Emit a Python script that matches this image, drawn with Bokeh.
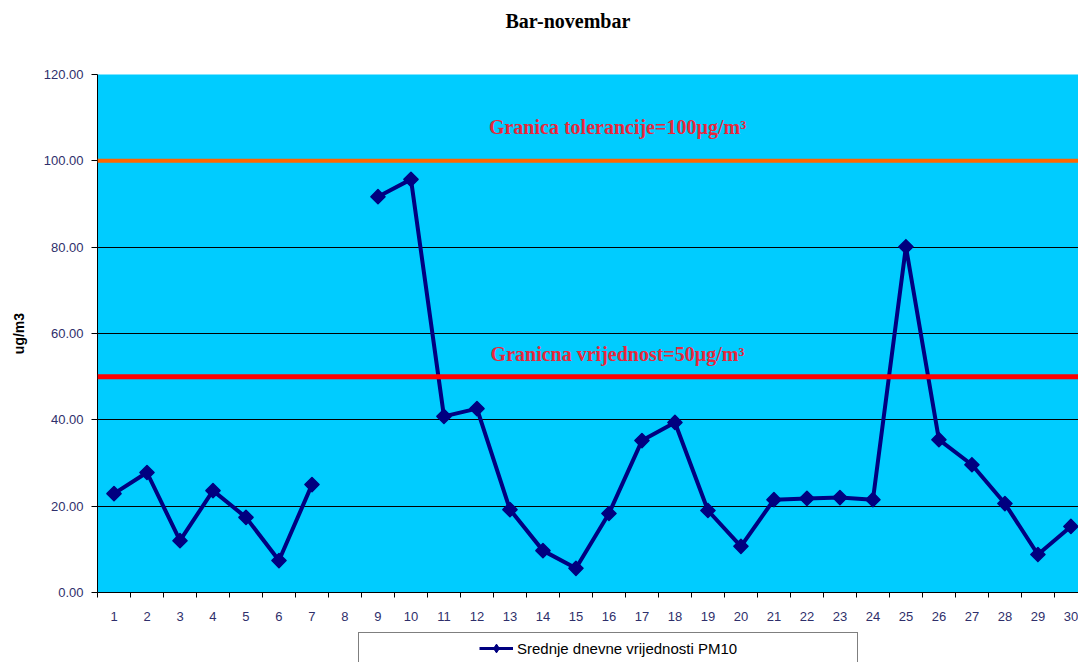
from bokeh.plotting import figure
from bokeh.layouts import column
from bokeh.models import (FixedTicker, PrintfTickFormatter, Span, Label, Legend, LegendItem,
                          ColumnDataSource, Range1d)
from bokeh.embed import file_html
from bokeh.resources import INLINE
import numpy as np

days = list(range(1, 31))
pm10 = [22.9, 27.8, 12.0, 23.6, 17.4, 7.4, 25.0, np.nan, 91.7, 95.7,
        40.8, 42.6, 19.2, 9.7, 5.6, 18.3, 35.2, 39.4, 19.0, 10.7,
        21.5, 21.8, 22.0, 21.5, 80.1, 35.4, 29.6, 20.6, 8.8, 15.3]
y_ticks = [0, 20, 40, 60, 80, 100, 120]
limit_tolerance = 100
limit_value = 50
series_name = "Srednje dnevne vrijednosti PM10"
title_text = "Bar-novembar"
label_tol = "Granica tolerancije=100µg/m³"
label_lim = "Granicna vrijednost=50µg/m³"

src = ColumnDataSource(dict(x=days, y=pm10))


def strip(height):
    f = figure(width=1078, height=height, output_backend="svg", toolbar_location=None,
               x_range=Range1d(0, 1), y_range=Range1d(0, 1),
               min_border_left=0, min_border_right=0, min_border_top=0, min_border_bottom=0)
    f.axis.visible = False
    f.grid.visible = False
    f.outline_line_color = None
    f.background_fill_color = "white"
    f.border_fill_color = "white"
    return f


# ---- title strip ----
top = strip(64)
top.title.text = title_text
top.title.align = "left"
top.title.offset = 408
top.title.vertical_align = "top"
top.title.standoff = 18
top.title.text_font = "Liberation Serif"
top.title.text_font_size = "20px"
top.title.text_font_style = "bold"
top.title.text_color = "black"

# ---- main chart ----
p = figure(width=1078, height=562, output_backend="svg", toolbar_location=None,
           title=None,
           x_range=Range1d(0.5, 30.23), y_range=Range1d(0, 120),
           min_border_left=97, min_border_right=0, min_border_top=10, min_border_bottom=34)

p.background_fill_color = "#00CCFF"
p.border_fill_color = "white"
p.outline_line_color = None

p.xaxis.ticker = FixedTicker(ticks=days, minor_ticks=[d + 0.5 for d in range(0, 31)])
p.xaxis.major_tick_out = 0
p.xaxis.major_tick_in = 0
p.xaxis.minor_tick_out = 5
p.xaxis.minor_tick_in = 0
p.xaxis.major_label_standoff = 14
p.xaxis.minor_tick_line_color = "black"

p.yaxis.ticker = FixedTicker(ticks=y_ticks)
p.yaxis.formatter = PrintfTickFormatter(format="%.2f")
p.yaxis.major_tick_out = 6
p.yaxis.major_tick_in = 0
p.yaxis.minor_tick_line_color = None
p.yaxis.axis_label = "ug/m3"
p.yaxis.axis_label_text_font = "Liberation Sans"
p.yaxis.axis_label_text_font_size = "14px"
p.yaxis.axis_label_text_font_style = "bold"
p.yaxis.axis_label_text_color = "black"
p.yaxis.axis_label_standoff = 14
p.yaxis.major_label_standoff = 8

for ax in (p.xaxis, p.yaxis):
    ax.major_label_text_font = "Liberation Sans"
    ax.major_label_text_font_size = "13px"
    ax.major_label_text_color = "#2F2F6B"
    ax.axis_line_color = "black"
    ax.major_tick_line_color = "black"

p.xgrid.grid_line_color = None
p.ygrid.grid_line_color = "black"
p.ygrid.grid_line_width = 1

p.add_layout(Span(location=limit_tolerance, dimension="width", line_color="#FF6600", line_width=4))
p.add_layout(Span(location=limit_value, dimension="width", line_color="#FF0000", line_width=5))

p.add_layout(Label(x=16.26, y=105.2, text=label_tol, text_align="center",
                   text_font="Liberation Serif", text_font_size="20px",
                   text_font_style="bold", text_color="#E8283C"))
p.add_layout(Label(x=16.26, y=52.6, text=label_lim, text_align="center",
                   text_font="Liberation Serif", text_font_size="20px",
                   text_font_style="bold", text_color="#E8283C"))

p.line("x", "y", source=src, line_color="#000080", line_width=4)
p.scatter("x", "y", source=src, marker="square", angle=np.pi / 4, size=10,
          fill_color="#000080", line_color="#000080", line_width=1.5, line_join="round")

# ---- legend strip (its renderers share the data but lie outside its 0..1 ranges) ----
lg = strip(36)
l_line = lg.line("x", "y", source=src, line_color="#000080", line_width=3)
l_pts = lg.scatter("x", "y", source=src, marker="diamond", size=10,
                   fill_color="#000080", line_color="#000080")
l_blank = lg.scatter("x", "y", source=src, fill_alpha=0, line_alpha=0)

legend = Legend(items=[LegendItem(label="", renderers=[l_blank]),
                       LegendItem(label=series_name, renderers=[l_line, l_pts]),
                       LegendItem(label="", renderers=[l_blank])],
                orientation="horizontal",
                location=(261, -2), padding=4, spacing=0, margin=0,
                glyph_width=34, glyph_height=22, label_standoff=4, label_width=78,
                label_text_font="Liberation Sans", label_text_font_size="15px",
                label_text_color="black",
                border_line_color="black", border_line_width=1,
                background_fill_color="white", background_fill_alpha=1)
lg.add_layout(legend, "center")

layout = column(top, p, lg, spacing=0)
open("out.html", "w").write(file_html(layout, INLINE))
